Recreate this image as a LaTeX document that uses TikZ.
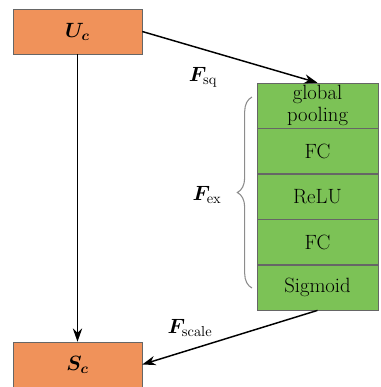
\documentclass[tikz,border=0pt]{standalone}
\usepackage{fix-cm}
\usepackage{fontspec}
\usepackage{amsmath}
\usepackage{bm}
\usepackage{tikz}
\usetikzlibrary{arrows.meta, positioning, decorations.pathreplacing}

\definecolor{boxorange}{RGB}{240,146,90}
\definecolor{boxgreen}{RGB}{124,194,86}

\begin{document}
\begin{tikzpicture}[
  x=0.75pt, y=-0.75pt,
  node distance=0pt,
  font=\fontsize{15.5}{16}\selectfont,
  iobox/.style={draw=black!60, fill=boxorange, minimum width=96.75pt, minimum height=33.75pt, inner sep=0pt},
  layer/.style={draw=black!60, fill=boxgreen, minimum width=90.75pt, minimum height=33.75pt, inner sep=0pt, align=center},
  thickarrow/.style={-{Stealth[length=10pt, width=7pt]}, line width=1.1pt},
]
\useasboundingbox (0,0) rectangle (380,387);

% Nodes
\node[iobox] (Uc) at (77.5,31.5) {$\bm{U}_{\bm{c}}$};
\node[iobox] (Sc) at (77.5,364.5) {$\bm{S}_{\bm{c}}$};

\node[layer] (pool) at (317.5,105.5) {global\\pooling};
\node[layer, below=of pool] (fc1) {FC};
\node[layer, below=of fc1] (relu) {ReLU};
\node[layer, below=of relu] (fc2) {FC};
\node[layer, below=of fc2] (sig) {Sigmoid};

% Arrows
\draw[thickarrow] (Uc) -- (Sc);
\draw[thickarrow] (Uc.east) -- (pool.north);
\draw[thickarrow] (sig.south) -- (Sc.east);

% Brace
\coordinate (braceLow) at (252,288);
\coordinate (braceHigh) at (252,97);
\draw[black!45, line width=0.8pt, decoration={brace, amplitude=11pt}, decorate] (braceLow) -- (braceHigh);

% Labels
\node (Fsq) at (203,77) {$\bm{F}_{\mathrm{sq}}$};
\node (Fex) at (207,195) {$\bm{F}_{\mathrm{ex}}$};
\node (Fscale) at (190,328) {$\bm{F}_{\mathrm{scale}}$};

\end{tikzpicture}
\end{document}
